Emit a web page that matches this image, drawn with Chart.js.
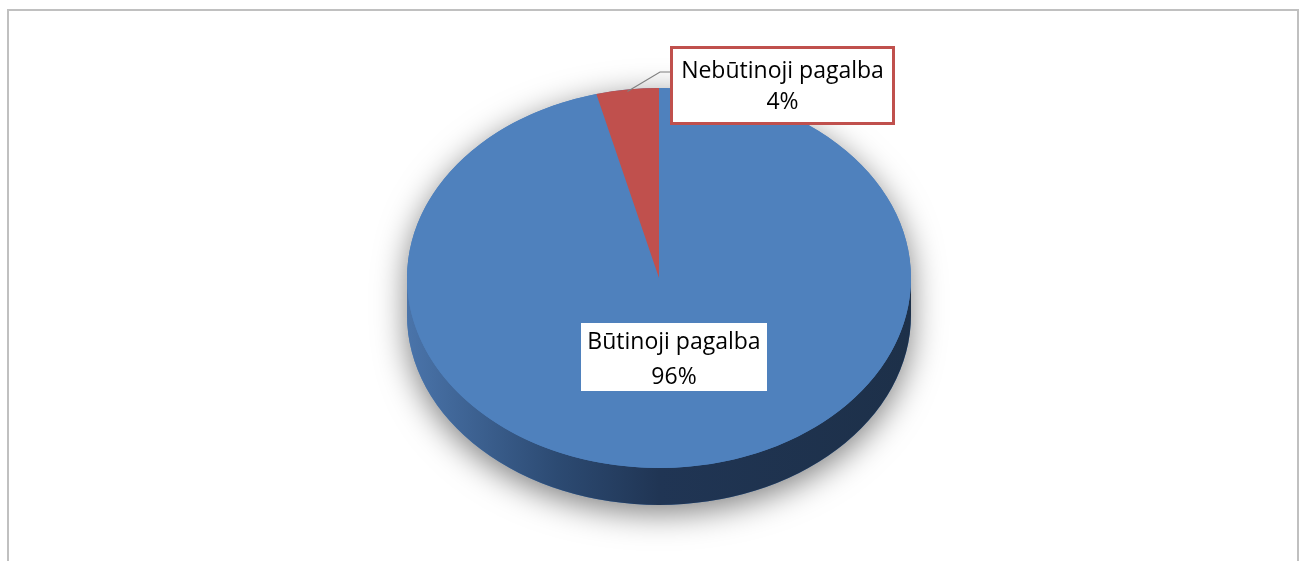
<!DOCTYPE html>
<html>
<head>
<meta charset="utf-8">
<script src="https://cdn.jsdelivr.net/npm/chart.js@4.4.0/dist/chart.umd.min.js"></script>
<style>
  html, body { margin: 0; padding: 0; background: #fff; }
  #wrap { position: relative; width: 1302px; height: 561px; }
</style>
</head>
<body>
<div id="wrap"><canvas id="pieChart" width="1302" height="561"></canvas></div>
<script>
var categories = ['Būtinoji pagalba', 'Nebūtinoji pagalba'];
var shares = [96, 4];
var sliceColors = ['#4f81bd', '#c0504d'];

var TILT = 190 / 252;   // vertical squash of the pie top
var DEPTH = 37;         // wall thickness

function pct(i) {
  var total = shares.reduce(function (a, b) { return a + b; }, 0);
  return Math.round(shares[i] / total * 100) + '%';
}

function geom(chart) {
  var arc = chart.getDatasetMeta(0).data[0];
  return { x: arc.x, y: arc.y, rx: arc.outerRadius, ry: arc.outerRadius * TILT };
}

// outer frame
var framePlugin = {
  id: 'frame',
  beforeDraw: function (chart) {
    var ctx = chart.ctx;
    ctx.save();
    ctx.strokeStyle = '#c0c0c0';
    ctx.lineWidth = 2;
    ctx.beginPath();
    ctx.moveTo(8, chart.height);
    ctx.lineTo(8, 10);
    ctx.lineTo(1298, 10);
    ctx.lineTo(1298, chart.height);
    ctx.stroke();
    ctx.restore();
  }
};

// tilted pie: shadow + walls, then squash the arcs
var pie3d = {
  id: 'pie3d',
  beforeDatasetsDraw: function (chart) {
    var ctx = chart.ctx, g = geom(chart);
    var arcs = chart.getDatasetMeta(0).data;

    // silhouette with soft shadow
    ctx.save();
    ctx.shadowColor = 'rgba(0,0,0,0.5)';
    ctx.shadowBlur = 32;
    ctx.shadowOffsetY = 8;
    ctx.fillStyle = '#4f81bd';
    ctx.beginPath();
    ctx.ellipse(g.x, g.y, g.rx, g.ry, 0, Math.PI, 0);
    ctx.ellipse(g.x, g.y + DEPTH, g.rx, g.ry, 0, 0, Math.PI);
    ctx.closePath();
    ctx.fill();
    ctx.restore();

    // front walls
    var grad = ctx.createLinearGradient(g.x - g.rx, 0, g.x + g.rx, 0);
    grad.addColorStop(0, '#4a74aa');
    grad.addColorStop(0.3, '#2c4a72');
    grad.addColorStop(0.5, '#203554');
    grad.addColorStop(1, '#1d3049');
    arcs.forEach(function (a, i) {
      var s = Math.max(a.startAngle, 0), e = Math.min(a.endAngle, Math.PI);
      if (e <= s) return;
      ctx.save();
      ctx.fillStyle = i === 0 ? grad : '#8c3836';
      ctx.beginPath();
      ctx.ellipse(g.x, g.y, g.rx, g.ry, 0, s, e);
      ctx.ellipse(g.x, g.y + DEPTH, g.rx, g.ry, 0, e, s, true);
      ctx.closePath();
      ctx.fill();
      ctx.restore();
    });

    ctx.save();
    ctx.translate(g.x, g.y);
    ctx.scale(1, TILT);
    ctx.translate(-g.x, -g.y);
  },
  afterDatasetsDraw: function (chart) {
    chart.ctx.restore();
  },
  afterDraw: function (chart) {
    var ctx = chart.ctx, g = geom(chart);
    var arcs = chart.getDatasetMeta(0).data;
    ctx.save();
    ctx.font = '23px "Open Sans", sans-serif';
    ctx.textAlign = 'center';
    ctx.textBaseline = 'middle';

    // big slice label
    var bx = g.x + 15, by = g.y + 79;
    ctx.fillStyle = '#fff';
    ctx.fillRect(bx - 93, by - 34, 186, 68);
    ctx.fillStyle = '#000';
    ctx.fillText(categories[0], bx, by - 15);
    ctx.fillText(pct(0), bx, by + 20);

    // small slice label with leader line
    var a = arcs[1], mid = (a.startAngle + a.endAngle) / 2;
    var px = g.x + g.rx * Math.cos(mid), py = g.y + g.ry * Math.sin(mid) + 2;
    var cx = 782.5, cy = 85.5;
    ctx.strokeStyle = '#7f7f7f';
    ctx.lineWidth = 1.2;
    ctx.beginPath();
    ctx.moveTo(px, py);
    ctx.lineTo(660, 72);
    ctx.lineTo(672, 72);
    ctx.stroke();
    ctx.fillStyle = '#fff';
    ctx.fillRect(cx - 111, cy - 38, 222, 76);
    ctx.strokeStyle = '#c0504d';
    ctx.lineWidth = 3;
    ctx.strokeRect(cx - 111, cy - 38, 222, 76);
    ctx.fillStyle = '#000';
    ctx.fillText(categories[1], cx, cy - 14);
    ctx.fillText(pct(1), cx, cy + 17);
    ctx.restore();
  }
};

var chart = new Chart(document.getElementById('pieChart'), {
  type: 'pie',
  data: {
    labels: categories,
    datasets: [{
      data: shares,
      backgroundColor: sliceColors,
      borderWidth: 0,
      radius: 252
    }]
  },
  options: {
    responsive: false,
    animation: false,
    events: [],
    layout: { padding: { top: 26, bottom: 31, left: 16, right: 0 } },
    plugins: { legend: { display: false }, tooltip: { enabled: false } }
  },
  plugins: [framePlugin, pie3d]
});
</script>
</body>
</html>
